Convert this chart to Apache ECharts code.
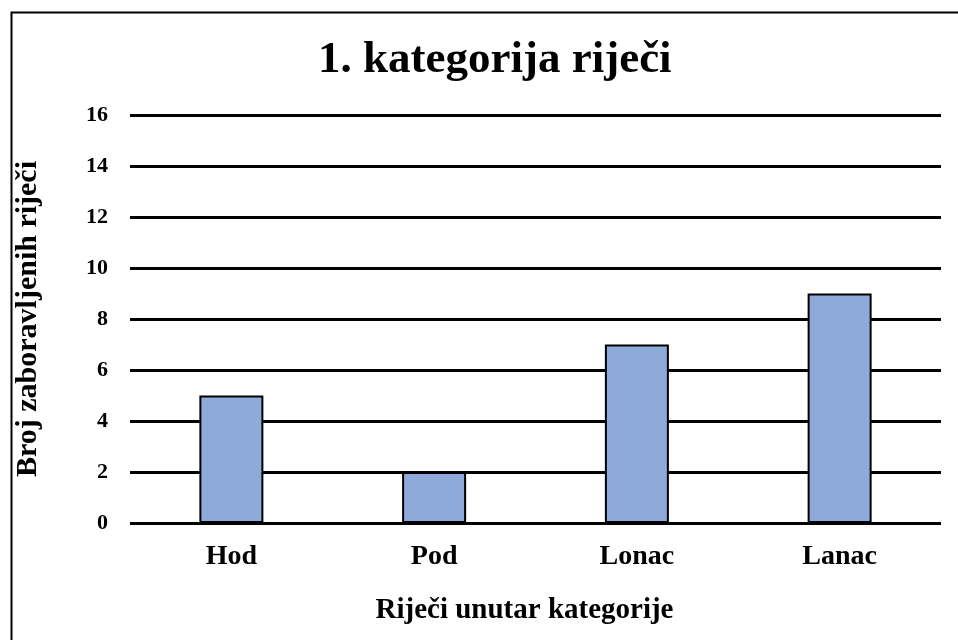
<!DOCTYPE html>
<html>
<head>
<meta charset="utf-8">
<script src="https://cdn.jsdelivr.net/npm/echarts@6/dist/echarts.min.js"></script>
<style>
html,body{margin:0;padding:0;background:#fff}
#main{width:958px;height:640px}
</style>
</head>
<body>
<div id="main"></div>
<script>
// podaci
var categories = ['Hod', 'Pod', 'Lonac', 'Lanac'];
var values = [5, 2, 7, 9];
var yTicks = [0, 2, 4, 6, 8, 10, 12, 14, 16];

var font = '"Liberation Serif", "Times New Roman", serif';
var myChart = echarts.init(document.getElementById('main'));
myChart.setOption({
	animation: false,
	graphic: [{
		type: 'rect',
		left: 9, top: 10,
		shape: {width: 970, height: 650},
		style: {fill: 'none', stroke: '#000', lineWidth: 2}
	}],
	title: {
		text: '1. kategorija riječi',
		left: 313,
		top: 33,
		textStyle: {fontFamily: font, fontSize: 45, fontWeight: 'bold', color: '#000'}
	},
	grid: {left: 130, right: 17, top: 115, bottom: 117},
	xAxis: {
		type: 'category',
		data: categories,
		name: 'Riječi unutar kategorije',
		nameLocation: 'middle',
		nameGap: 73,
		nameTextStyle: {fontFamily: font, fontSize: 29, fontWeight: 'bold', color: '#000', padding: [0, 22, 0, 0]},
		axisLine: {show: false},
		axisTick: {show: false},
		axisLabel: {fontFamily: font, fontSize: 28, fontWeight: 'bold', color: '#000', margin: 20}
	},
	yAxis: {
		type: 'value',
		min: yTicks[0],
		max: yTicks[yTicks.length - 1],
		interval: 2,
		name: 'Broj zaboravljenih riječi',
		nameLocation: 'middle',
		nameGap: 87,
		nameTextStyle: {fontFamily: font, fontSize: 30, fontWeight: 'bold', color: '#000'},
		axisLine: {show: false},
		axisTick: {show: false},
		axisLabel: {fontFamily: font, fontSize: 22, fontWeight: 'bold', color: '#000', margin: 22},
		splitLine: {show: true, lineStyle: {color: '#000', width: 3}}
	},
	series: [{
		type: 'bar',
		data: values,
		barWidth: 64,
		itemStyle: {color: '#8eaadb', borderColor: '#000', borderWidth: 2}
	}]
});
</script>
</body>
</html>
